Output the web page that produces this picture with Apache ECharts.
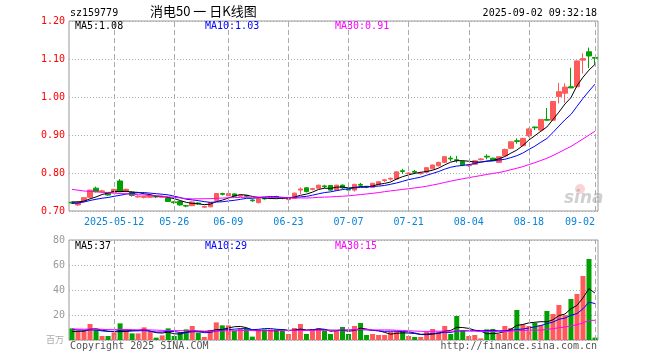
<!DOCTYPE html>
<html><head><meta charset="utf-8">
<script src="https://cdn.jsdelivr.net/npm/echarts@6/dist/echarts.min.js"></script>
<style>html,body{margin:0;padding:0;background:#fff}#c{width:660px;height:360px}</style>
</head><body><div id="c"></div>
<script>
// ---- data ----
const dates = [
'2025-04-28','2025-04-29','2025-04-30',
'2025-05-06','2025-05-07','2025-05-08','2025-05-09',
'2025-05-12','2025-05-13','2025-05-14','2025-05-15','2025-05-16',
'2025-05-19','2025-05-20','2025-05-21','2025-05-22','2025-05-23',
'2025-05-26','2025-05-27','2025-05-28','2025-05-29','2025-05-30',
'2025-06-03','2025-06-04','2025-06-05','2025-06-06',
'2025-06-09','2025-06-10','2025-06-11','2025-06-12','2025-06-13',
'2025-06-16','2025-06-17','2025-06-18','2025-06-19','2025-06-20',
'2025-06-23','2025-06-24','2025-06-25','2025-06-26','2025-06-27','2025-06-30',
'2025-07-01','2025-07-02','2025-07-03','2025-07-04',
'2025-07-07','2025-07-08','2025-07-09','2025-07-10','2025-07-11',
'2025-07-14','2025-07-15','2025-07-16','2025-07-17','2025-07-18',
'2025-07-21','2025-07-22','2025-07-23','2025-07-24','2025-07-25',
'2025-07-28','2025-07-29','2025-07-30','2025-07-31','2025-08-01',
'2025-08-04','2025-08-05','2025-08-06','2025-08-07','2025-08-08',
'2025-08-11','2025-08-12','2025-08-13','2025-08-14','2025-08-15',
'2025-08-18','2025-08-19','2025-08-20','2025-08-21','2025-08-22',
'2025-08-25','2025-08-26','2025-08-27','2025-08-28','2025-08-29',
'2025-09-01','2025-09-02'];
const tickLabels = ['2025-05-12','2025-05-26','2025-06-09','2025-06-23','2025-07-07','2025-07-21','2025-08-04','2025-08-18','2025-09-02'];
const priceTicks = [0.70, 0.80, 0.90, 1.00, 1.10, 1.20];
const volumeTicks = [0, 20, 40, 60, 80];

const opens = [
0.723,0.716,0.726,0.736,0.760,0.751,0.749,0.749,0.779,0.751,
0.750,0.737,0.736,0.736,0.739,0.736,0.734,0.724,0.725,0.714,
0.714,0.721,0.710,0.711,0.728,0.746,0.740,0.745,0.739,0.741,
0.729,0.722,0.734,0.733,0.738,0.735,0.730,0.733,0.755,0.761,
0.757,0.760,0.766,0.767,0.755,0.768,0.757,0.755,0.770,0.765,
0.762,0.769,0.780,0.784,0.784,0.806,0.798,0.804,0.798,0.802,
0.811,0.819,0.828,0.839,0.835,0.830,0.819,0.823,0.835,0.844,
0.839,0.828,0.845,0.865,0.885,0.872,0.898,0.921,0.913,0.941,
0.939,1.001,1.010,1.027,1.027,1.097,1.119,1.104];
const closes = [
0.721,0.723,0.735,0.755,0.751,0.753,0.742,0.757,0.751,0.757,
0.741,0.739,0.738,0.741,0.737,0.738,0.725,0.722,0.716,0.713,
0.724,0.719,0.712,0.722,0.746,0.744,0.746,0.739,0.741,0.739,
0.727,0.732,0.732,0.735,0.736,0.733,0.733,0.747,0.758,0.751,
0.759,0.768,0.764,0.755,0.768,0.761,0.755,0.770,0.768,0.763,
0.773,0.777,0.782,0.786,0.803,0.804,0.800,0.802,0.800,0.814,
0.821,0.828,0.843,0.837,0.833,0.821,0.821,0.832,0.837,0.842,
0.832,0.843,0.862,0.882,0.883,0.891,0.916,0.919,0.941,0.939,
0.988,1.014,1.026,1.024,1.095,1.101,1.108,1.102];
const lows = [
0.719,0.713,0.724,0.735,0.749,0.748,0.740,0.747,0.750,0.750,
0.738,0.735,0.733,0.735,0.734,0.734,0.724,0.719,0.714,0.710,
0.713,0.716,0.708,0.710,0.727,0.741,0.739,0.738,0.737,0.736,
0.724,0.720,0.730,0.731,0.733,0.731,0.720,0.732,0.745,0.749,
0.754,0.759,0.760,0.753,0.754,0.758,0.752,0.751,0.764,0.760,
0.761,0.768,0.776,0.780,0.783,0.798,0.795,0.797,0.796,0.800,
0.810,0.817,0.826,0.831,0.827,0.818,0.816,0.821,0.833,0.836,
0.831,0.826,0.844,0.863,0.877,0.870,0.894,0.913,0.908,0.938,
0.938,0.983,0.985,1.023,1.025,1.062,1.076,1.086];
const highs = [
0.725,0.725,0.737,0.756,0.764,0.756,0.750,0.758,0.784,0.759,
0.752,0.741,0.740,0.742,0.741,0.740,0.735,0.726,0.726,0.716,
0.725,0.723,0.714,0.723,0.747,0.748,0.747,0.746,0.743,0.742,
0.731,0.734,0.736,0.738,0.740,0.736,0.734,0.748,0.762,0.763,
0.761,0.769,0.769,0.768,0.769,0.770,0.758,0.772,0.774,0.766,
0.774,0.778,0.784,0.788,0.804,0.811,0.802,0.808,0.803,0.815,
0.822,0.830,0.844,0.845,0.845,0.832,0.823,0.833,0.839,0.849,
0.840,0.844,0.864,0.883,0.891,0.893,0.919,0.922,0.942,0.971,
0.989,1.037,1.036,1.077,1.096,1.115,1.130,1.104];
const volumes = [
9.3,7.5,7.5,12.8,8,3.2,3.2,5.9,13.3,8.5,
5.3,5.3,10.1,6.7,1.9,3.7,9.3,3.2,5.9,8.5,
11.2,5.9,2.4,8,14.1,11.7,11.7,7.5,9.3,9.3,
2.7,8.5,8.5,8.5,8.5,8,4.8,9.6,12.8,4.8,
8.5,9.3,7.5,4.8,7.2,10.4,4.8,11.2,13.6,4,
4.8,4,4,6.7,7.2,6.7,3.2,2.4,2.4,6.7,
8.8,6.7,11.2,4.8,19.2,8,3.2,4,1.3,8.5,
8.8,4.8,11.2,9.6,24,12.5,11.2,13.6,12,23.2,
20.8,28,20,32.8,36.8,51.2,64.8,1.9];
// closes / volumes of the 29 sessions before the first shown day (needed by the moving averages)
const priorCloses = [0.792,0.796,0.790,0.785,0.788,0.782,0.786,0.780,0.776,0.779,
0.772,0.768,0.775,0.770,0.765,0.768,0.762,0.766,0.758,0.752,
0.712,0.708,0.715,0.720,0.725,0.722,0.726,0.724,0.726];
const priorVolumes = [9,11,8,7,12,10,8,9,7,10,9,8,11,8,9,10,7,8,9,8.9,
12,9.5,11,8,11,6,7.2,5,6];

// ---- helpers ----
function movingAvg(prior, vals, n) {
  const all = prior.concat(vals);
  return vals.map((v, i) => {
    const end = prior.length + i;
    let s = 0;
    for (let k = end - n + 1; k <= end; k++) s += all[k];
    return +(s / n).toFixed(4);
  });
}
const RED = '#ff5a5a', GREEN = '#00a000';
const MONO = '"DejaVu Sans Mono", "Liberation Mono", monospace';
const kData = dates.map((d, i) => [opens[i], closes[i], lows[i], highs[i]]);
const vData = volumes.map((v, i) => ({value: v, itemStyle: {color: closes[i] >= opens[i] ? RED : GREEN}}));
const vLines = {
  symbol: ['none', 'none'], silent: true, label: {show: false}, animation: false,
  lineStyle: {color: '#aaa', type: [5, 3], width: 1},
  emphasis: {disabled: true},
  data: tickLabels.map(d => ({xAxis: d}))
};
function maLine(name, data, color, xi) {
  return {name, type: 'line', data, xAxisIndex: xi, yAxisIndex: xi, symbol: 'none',
    lineStyle: {color, width: 1}, silent: true, z: 3};
}
function txt(text, pos, color, size, family) {
  return Object.assign({text, padding: 0,
    textStyle: {color, fontSize: size || 10, fontWeight: 'normal', fontFamily: family || MONO}}, pos);
}

const chart = echarts.init(document.getElementById('c'), null, {renderer: 'canvas'});
chart.setOption({
  animation: false,
  backgroundColor: '#fff',
  title: [
    txt('sz159779', {left: 70, top: 8}, '#000'),
    txt('消电50 一 日K线图', {left: 150, top: 5}, '#000', 13, '"Noto Sans CJK SC", sans-serif'),
    txt('2025-09-02 09:32:18', {right: 63, top: 8}, '#000'),
    txt('MA5:1.08', {left: 75, top: 21}, '#000'),
    txt('MA10:1.03', {left: 205, top: 21}, '#0000ff'),
    txt('MA30:0.91', {left: 335, top: 21}, '#ff00ff'),
    txt('MA5:37', {left: 75, top: 241}, '#000'),
    txt('MA10:29', {left: 205, top: 241}, '#0000ff'),
    txt('MA30:15', {left: 335, top: 241}, '#ff00ff'),
    txt('Copyright 2025 SINA.COM', {left: 70, top: 341}, '#555'),
    txt('http://finance.sina.com.cn', {right: 63, top: 341}, '#555'),
    txt('百万', {right: 596, top: 335}, '#aaa', 9, '"Noto Sans CJK SC", sans-serif')
  ],
  graphic: [
    {type: 'circle', shape: {cx: 580, cy: 189, r: 5}, style: {fill: 'rgba(240,130,130,0.35)'}, silent: true},
    {type: 'text', x: 564, y: 190, silent: true,
     style: {text: 'sina', font: 'italic bold 17px "DejaVu Sans", sans-serif', fill: 'rgba(150,150,150,0.45)'}}
  ],
  grid: [
    {left: 69, width: 529, top: 21, height: 190, show: true, borderColor: '#999', borderWidth: 1},
    {left: 69, width: 529, top: 240, height: 100, show: true, borderColor: '#999', borderWidth: 1}
  ],
  xAxis: [
    {type: 'category', gridIndex: 0, data: dates, boundaryGap: true,
     axisLine: {show: false}, axisTick: {show: false}, splitLine: {show: false},
     axisLabel: {
       interval: (idx, v) => tickLabels.includes(v), margin: 6,
       color: '#0a84d8', fontSize: 10, fontFamily: MONO,
       formatter: v => v === tickLabels[0] ? v : (v === dates[dates.length - 1] ? '{r|' + v.slice(5) + '}' : v.slice(5)),
       rich: {r: {color: '#0a84d8', fontSize: 10, fontFamily: MONO, padding: [0, 30, 0, 0]}}
     }},
    {type: 'category', gridIndex: 1, data: dates, boundaryGap: true,
     axisLine: {show: false}, axisTick: {show: false}, splitLine: {show: false}, axisLabel: {show: false}}
  ],
  yAxis: [
    {type: 'value', gridIndex: 0, min: priceTicks[0], max: priceTicks[priceTicks.length - 1], interval: 0.1,
     axisLine: {show: false}, axisTick: {show: false},
     axisLabel: {color: '#ff0000', fontSize: 10, fontFamily: MONO, margin: 4, formatter: v => v.toFixed(2)},
     splitLine: {lineStyle: {color: '#aaa', type: [1, 2], width: 1}}},
    {type: 'value', gridIndex: 1, min: volumeTicks[0], max: volumeTicks[volumeTicks.length - 1], interval: 20,
     axisLine: {show: false}, axisTick: {show: false},
     axisLabel: {color: '#999', fontSize: 10, fontFamily: MONO, margin: 4, formatter: v => v === 0 ? '' : String(v)},
     splitLine: {lineStyle: {color: '#aaa', type: [1, 2], width: 1}}}
  ],
  series: [
    {type: 'candlestick', name: 'K', data: kData, xAxisIndex: 0, yAxisIndex: 0, barWidth: 5,
     itemStyle: {color: RED, color0: GREEN, borderColor: RED, borderColor0: GREEN, borderWidth: 1},
     markLine: vLines, z: 2},
    maLine('MA5', movingAvg(priorCloses, closes, 5), '#000000', 0),
    maLine('MA10', movingAvg(priorCloses, closes, 10), '#0000ff', 0),
    maLine('MA30', movingAvg(priorCloses, closes, 30), '#ff00ff', 0),
    {type: 'bar', name: 'VOL', data: vData, xAxisIndex: 1, yAxisIndex: 1, barWidth: 5,
     markLine: vLines, z: 2},
    maLine('VMA5', movingAvg(priorVolumes, volumes, 5), '#000000', 1),
    maLine('VMA10', movingAvg(priorVolumes, volumes, 10), '#0000ff', 1),
    maLine('VMA30', movingAvg(priorVolumes, volumes, 30), '#ff00ff', 1)
  ]
});
</script></body></html>
